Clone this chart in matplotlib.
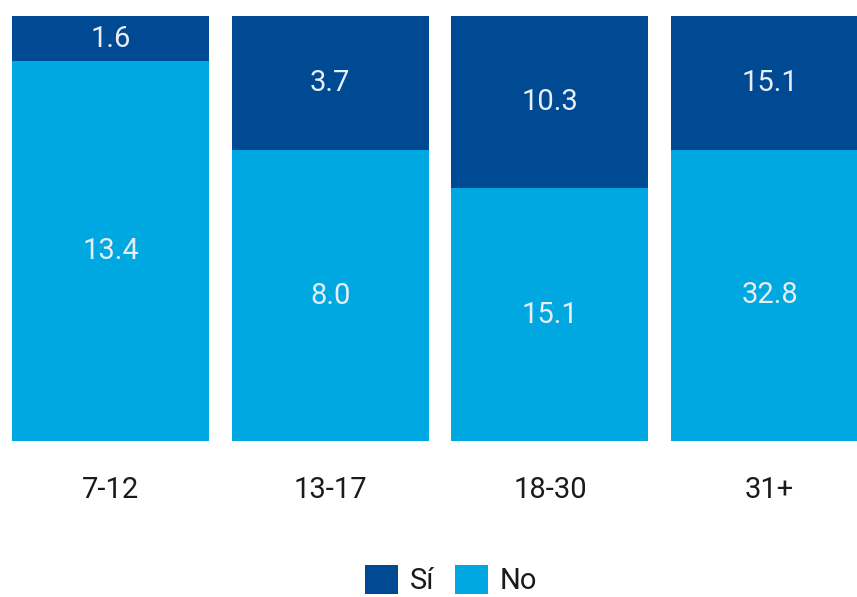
import matplotlib
matplotlib.use("Agg")
import matplotlib.pyplot as plt
import numpy as np

categories = ["7-12", "13-17", "18-30", "31+"]
si_values = [1.6, 3.7, 10.3, 15.1]
no_values = [13.4, 8.0, 15.1, 32.8]
series_names = ["Sí", "No"]

c_si = "#004a93"
c_no = "#00a8e1"

plt.rcParams['font.family'] = ['Roboto', 'DejaVu Sans']

fig = plt.figure(figsize=(8.57, 5.97), dpi=100)
ax = fig.add_axes([0, 156/597, 1, 425/597])

si = np.array(si_values)
no = np.array(no_values)
tot = si + no
si_pct = si / tot * 100
no_pct = no / tot * 100
x = np.arange(len(categories))
w = 0.897

b_no = ax.bar(x, no_pct, width=w, color=c_no, label=series_names[1])
b_si = ax.bar(x, si_pct, bottom=no_pct, width=w, color=c_si, label=series_names[0])

lab_col = "#e8eef5"
for i in range(len(categories)):
    ax.text(x[i], no_pct[i] / 2, f"{no[i]:.1f}", ha='center', va='center',
            color=lab_col, fontsize=21)
    ax.text(x[i], no_pct[i] + si_pct[i] / 2, f"{si[i]:.1f}", ha='center', va='center',
            color=lab_col, fontsize=21)

ax.set_xlim(-0.503, 3.398)
ax.set_ylim(0, 100)
ax.axis('off')

for i, c in enumerate(categories):
    fig.text((110.5 + 219.7 * i) / 857, 1 - 490 / 597, c, ha='center', va='center',
             fontsize=21, color="#1a1a1a")

fig.legend(handles=[b_si, b_no], labels=series_names, loc='center',
           bbox_to_anchor=(451 / 857, 1 - 580 / 597), ncol=2, frameon=False,
           fontsize=21, handlelength=1.15, handleheight=1.15, handletextpad=0.4,
           columnspacing=0.7, labelcolor="#1a1a1a")

fig.savefig("out.png", dpi=100)
